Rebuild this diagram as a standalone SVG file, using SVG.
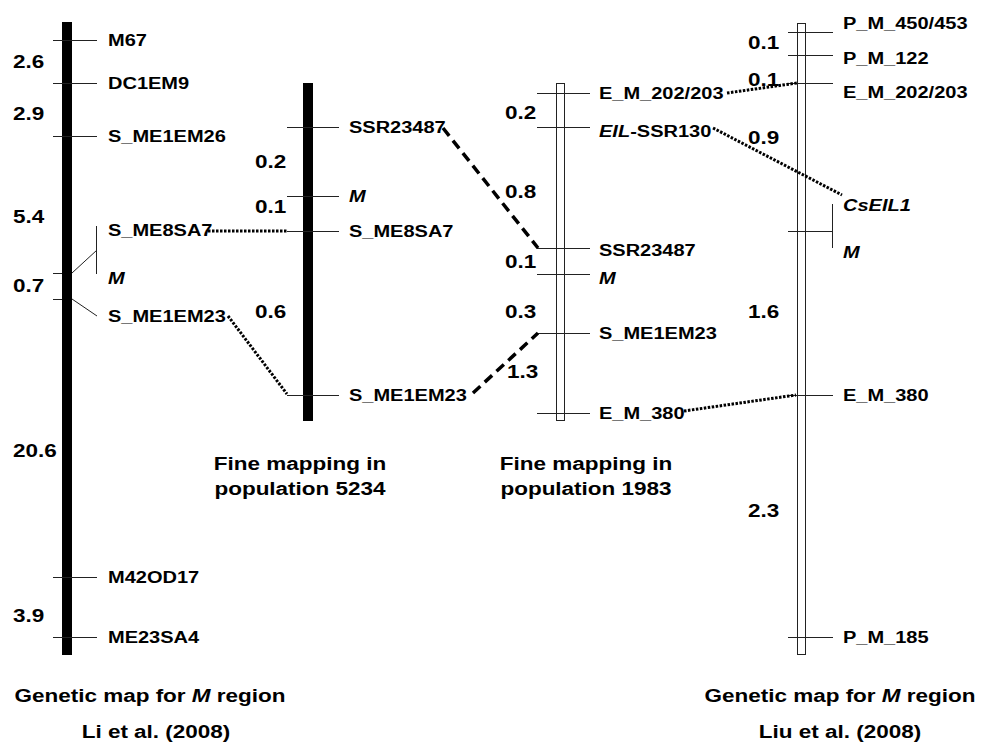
<svg xmlns="http://www.w3.org/2000/svg" width="983" height="745" viewBox="0 0 983 745">
<style>
text{font-family:"Liberation Sans",Arial,sans-serif;font-weight:bold;fill:#000}
.lb{font-size:16px}
.d{font-size:18px}
.cap{font-size:18px;text-anchor:middle}
.it{font-style:italic}
.tk{stroke:#222;stroke-width:1;fill:none}
.bar{fill:#000}
.hb{fill:#fff;stroke:#222;stroke-width:1}
.dot{stroke:#000;stroke-width:3;stroke-dasharray:2.5 1.5;fill:none}
.dash{stroke:#000;stroke-width:3.5;stroke-dasharray:10 6;fill:none}
</style>
<rect width="983" height="745" fill="#fff"/>

<g id="map-li">
<rect class="bar" x="62" y="22" width="10" height="633"/>
<path class="tk" d="M53 40.5H97M53 83.5H97M53 136.5H97M53 273.5H62M72 273L97 250M96.5 226V274M53 299.5H62M72 299L97 316M53 577.5H97M53 637.5H97"/>
<text class="lb" transform="matrix(1.25 0 0 1 108 46)">M67</text>
<text class="lb" transform="matrix(1.25 0 0 1 108 89)">DC1EM9</text>
<text class="lb" transform="matrix(1.25 0 0 1 108 142)">S_ME1EM26</text>
<text class="lb" transform="matrix(1.25 0 0 1 108 236)">S_ME8SA7</text>
<text class="lb it" transform="matrix(1.25 0 0 1 108 284)">M</text>
<text class="lb" transform="matrix(1.25 0 0 1 108 322)">S_ME1EM23</text>
<text class="lb" transform="matrix(1.25 0 0 1 108 583)">M42OD17</text>
<text class="lb" transform="matrix(1.25 0 0 1 108 643)">ME23SA4</text>
<text class="d" transform="matrix(1.25 0 0 1 13 68)">2.6</text>
<text class="d" transform="matrix(1.25 0 0 1 13 120)">2.9</text>
<text class="d" transform="matrix(1.25 0 0 1 13 223)">5.4</text>
<text class="d" transform="matrix(1.25 0 0 1 13 292)">0.7</text>
<text class="d" transform="matrix(1.25 0 0 1 13 457)">20.6</text>
<text class="d" transform="matrix(1.25 0 0 1 13 622)">3.9</text>
<text class="cap" transform="matrix(1.25 0 0 1 150 702)">Genetic map for <tspan class="it">M</tspan> region</text>
<text class="cap" transform="matrix(1.25 0 0 1 156 738)">Li et al. (2008)</text>
</g>

<g id="map-5234">
<rect class="bar" x="303" y="83" width="10" height="338"/>
<path class="tk" d="M287 127.5H339M287 196.5H339M287 231.5H339M287 395.5H339"/>
<text class="lb" transform="matrix(1.25 0 0 1 349 133)">SSR23487</text>
<text class="lb it" transform="matrix(1.25 0 0 1 349 202)">M</text>
<text class="lb" transform="matrix(1.25 0 0 1 349 237)">S_ME8SA7</text>
<text class="lb" transform="matrix(1.25 0 0 1 349 401)">S_ME1EM23</text>
<text class="d" transform="matrix(1.25 0 0 1 255 168)">0.2</text>
<text class="d" transform="matrix(1.25 0 0 1 255 213)">0.1</text>
<text class="d" transform="matrix(1.25 0 0 1 255 318)">0.6</text>
<text class="cap" transform="matrix(1.25 0 0 1 300 470)">Fine mapping in</text>
<text class="cap" transform="matrix(1.25 0 0 1 300 495)">population 5234</text>
</g>

<g id="map-1983">
<rect class="hb" x="556.5" y="83.5" width="8" height="337"/>
<path class="tk" d="M537 93.5H590M537 127.5H590M537 248.5H590M537 274.5H590M537 333.5H590M537 413.5H590"/>
<text class="lb" transform="matrix(1.25 0 0 1 599 99)">E_M_202/203</text>
<text class="lb" transform="matrix(1.25 0 0 1 599 137)"><tspan class="it">EIL</tspan>-SSR130</text>
<text class="lb" transform="matrix(1.25 0 0 1 599 256)">SSR23487</text>
<text class="lb it" transform="matrix(1.25 0 0 1 599 284)">M</text>
<text class="lb" transform="matrix(1.25 0 0 1 599 339)">S_ME1EM23</text>
<text class="lb" transform="matrix(1.25 0 0 1 599 419)">E_M_380</text>
<text class="d" transform="matrix(1.25 0 0 1 505 119)">0.2</text>
<text class="d" transform="matrix(1.25 0 0 1 505 198)">0.8</text>
<text class="d" transform="matrix(1.25 0 0 1 505 268)">0.1</text>
<text class="d" transform="matrix(1.25 0 0 1 505 318)">0.3</text>
<text class="d" transform="matrix(1.25 0 0 1 507 378)">1.3</text>
<text class="cap" transform="matrix(1.25 0 0 1 586 470)">Fine mapping in</text>
<text class="cap" transform="matrix(1.25 0 0 1 586 495)">population 1983</text>
</g>

<g id="map-liu">
<rect class="hb" x="797.5" y="23.5" width="8" height="631"/>
<path class="tk" d="M788 32.5H833M788 55.5H833M788 83.5H833M788 231.5H833M832.5 204V248M788 395.5H833M788 637.5H833"/>
<text class="lb" transform="matrix(1.25 0 0 1 843 29)">P_M_450/453</text>
<text class="lb" transform="matrix(1.25 0 0 1 843 64)">P_M_122</text>
<text class="lb" transform="matrix(1.25 0 0 1 843 98)">E_M_202/203</text>
<text class="lb it" transform="matrix(1.25 0 0 1 843 211)">CsEIL1</text>
<text class="lb it" transform="matrix(1.25 0 0 1 843 258)">M</text>
<text class="lb" transform="matrix(1.25 0 0 1 843 401)">E_M_380</text>
<text class="lb" transform="matrix(1.25 0 0 1 843 643)">P_M_185</text>
<text class="d" transform="matrix(1.25 0 0 1 748 49)">0.1</text>
<text class="d" transform="matrix(1.25 0 0 1 748 86)">0.1</text>
<text class="d" transform="matrix(1.25 0 0 1 748 144)">0.9</text>
<text class="d" transform="matrix(1.25 0 0 1 748 318)">1.6</text>
<text class="d" transform="matrix(1.25 0 0 1 748 517)">2.3</text>
<text class="cap" transform="matrix(1.25 0 0 1 840 702)">Genetic map for <tspan class="it">M</tspan> region</text>
<text class="cap" transform="matrix(1.25 0 0 1 840 738)">Liu et al. (2008)</text>
</g>

<g id="connectors">
<path class="dot" d="M208 231H287"/>
<path class="dot" d="M228 316L287 394"/>
<path class="dash" d="M443 128L538 248"/>
<path class="dash" d="M473 393L538 333"/>
<path class="dot" d="M727 93L797 83"/>
<path class="dot" d="M713 128L842 195"/>
<path class="dot" d="M684 411L796 395"/>
</g>
</svg>
